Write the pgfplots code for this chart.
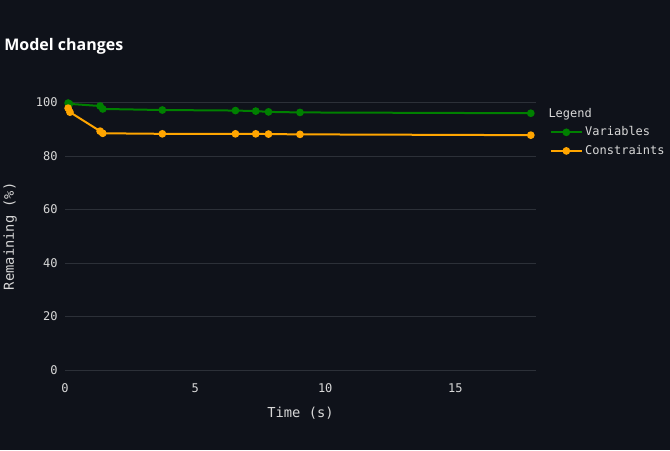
\documentclass[border=0pt]{standalone}
\usepackage{fontspec}
\setmainfont{DejaVu Sans Mono}
\newfontfamily\titlefont{Open Sans}
\usepackage{pgfplots}
\pgfplotsset{compat=1.18}
\definecolor{bg}{HTML}{0F121A}
\definecolor{gridc}{HTML}{2C3038}
\definecolor{txt}{HTML}{D8D8D8}
\definecolor{vgreen}{HTML}{008000}
\definecolor{corange}{HTML}{FFA500}
\begin{document}
\begin{tikzpicture}
\fill[bg] (0,0) rectangle (502.5pt,337.5pt);
\node[anchor=west, text=white, font=\titlefont\bfseries\fontsize{12}{14}\selectfont, inner sep=0pt] at (3pt,302.5pt) {Model changes};
\begin{axis}[
  at={(48.75pt,60pt)}, anchor=south west,
  scale only axis, width=353.25pt, height=200.6pt,
  xmin=0, xmax=18.1, ymin=0, ymax=100,
  clip=false,
  axis line style={draw=none},
  tick style={draw=none},
  ymajorgrids, grid style={gridc, line width=0.75pt},
  xtick={0,5,10,15}, ytick={0,20,40,60,80,100},
  /pgf/number format/assume math mode=true,
  ticklabel style={text=txt, font=\fontsize{9}{10}\selectfont},
  yticklabel style={xshift=-2pt},
  xticklabel style={yshift=-6.5pt},
  xlabel={Time (s)}, ylabel={Remaining (\%)},
  label style={text=txt, font=\fontsize{10.3}{12}\selectfont},
  xlabel style={yshift=-4pt},
  ylabel style={yshift=7.5pt},
  legend style={at={(1.021,1.0)}, anchor=north west, draw=none, fill=none,
    text=txt, font=\fontsize{9}{10}\selectfont, row sep=1.6pt,
    legend cell align=left},
  legend image code/.code={\draw[mark repeat=2,mark phase=2,#1] plot coordinates {(0cm,0cm) (0.4cm,0cm) (0.8cm,0cm)};},
]
\addlegendimage{empty legend}
\addlegendentry{\hspace{-27.5pt}Legend}
\addplot[vgreen, line width=1.5pt, mark=*, mark size=2.1pt] coordinates {
(0.12,99.8) (0.17,99.5) (1.35,98.7) (1.45,97.6) (3.74,97.2) (6.55,97.0) (7.33,96.8) (7.82,96.5) (9.03,96.3) (17.9,96.0)
};
\addlegendentry{Variables}
\addplot[corange, line width=1.5pt, mark=*, mark size=2.1pt] coordinates {
(0.12,97.9) (0.19,96.4) (1.35,89.3) (1.45,88.5) (3.74,88.3) (6.55,88.3) (7.33,88.3) (7.82,88.2) (9.03,88.1) (17.9,87.8)
};
\addlegendentry{Constraints}
\end{axis}
\pgfresetboundingbox
\useasboundingbox (0,0) rectangle (502.5pt,337.5pt);
\end{tikzpicture}
\end{document}
